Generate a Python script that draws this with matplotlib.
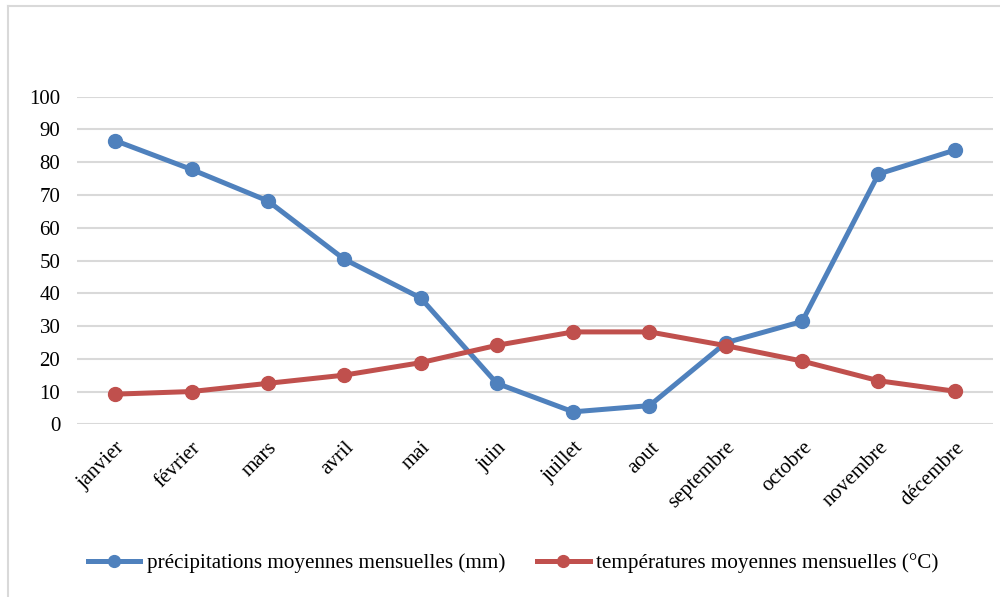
import matplotlib.pyplot as plt
from matplotlib.lines import Line2D

months = ['janvier', 'février', 'mars', 'avril', 'mai', 'juin', 'juillet',
          'aout', 'septembre', 'octobre', 'novembre', 'décembre']
precip = [86.6, 77.8, 68.2, 50.4, 38.6, 12.5, 3.8, 5.7, 24.9, 31.4, 76.4, 83.7]
temp = [9.2, 10.0, 12.5, 15.0, 18.8, 24.1, 28.2, 28.2, 24.0, 19.3, 13.3, 10.1]
yticks = list(range(0, 101, 10))

blue = '#4F81BD'
red = '#C0504D'

plt.rcParams['font.family'] = ['Liberation Serif', 'DejaVu Serif']

fig = plt.figure(figsize=(10, 5.97), dpi=100)
ax = fig.add_axes([0.077, 0.2893, 0.916, 0.5487])

x = list(range(len(months)))
ax.plot(x, precip, color=blue, lw=3.6, marker='o', ms=10,
        label='précipitations moyennes mensuelles (mm)', zorder=3)
ax.plot(x, temp, color=red, lw=3.6, marker='o', ms=10,
        label='températures moyennes mensuelles (°C)', zorder=3)

ax.set_xlim(-0.5, len(months) - 0.5)
ax.set_ylim(0, 100)
ax.set_yticks(yticks)
ax.yaxis.grid(True, color='#D9D9D9', lw=1.5)
ax.set_axisbelow(True)
for s in ax.spines.values():
    s.set_visible(False)
ax.tick_params(axis='y', length=0, pad=12, labelsize=15)
ax.tick_params(axis='x', length=0, pad=10, labelsize=15)
ax.set_xticks(x)
ax.set_xticklabels(months, rotation=45, ha='right', va='top',
                   rotation_mode='anchor')

fig.legend(loc='center', bbox_to_anchor=(0.513, 0.057), ncol=2, frameon=False,
           fontsize=15.2, handlelength=2.5, handletextpad=0.3,
           columnspacing=1.5, markerscale=0.85)

# outer chart frame (top and left edges)
fig.add_artist(Line2D([0.008, 1.0], [1 - 6 / 597, 1 - 6 / 597],
                      color='#D9D9D9', lw=1.5, transform=fig.transFigure))
fig.add_artist(Line2D([0.008, 0.008], [0, 1 - 6 / 597],
                      color='#D9D9D9', lw=1.5, transform=fig.transFigure))

fig.savefig('out.png', dpi=100)
